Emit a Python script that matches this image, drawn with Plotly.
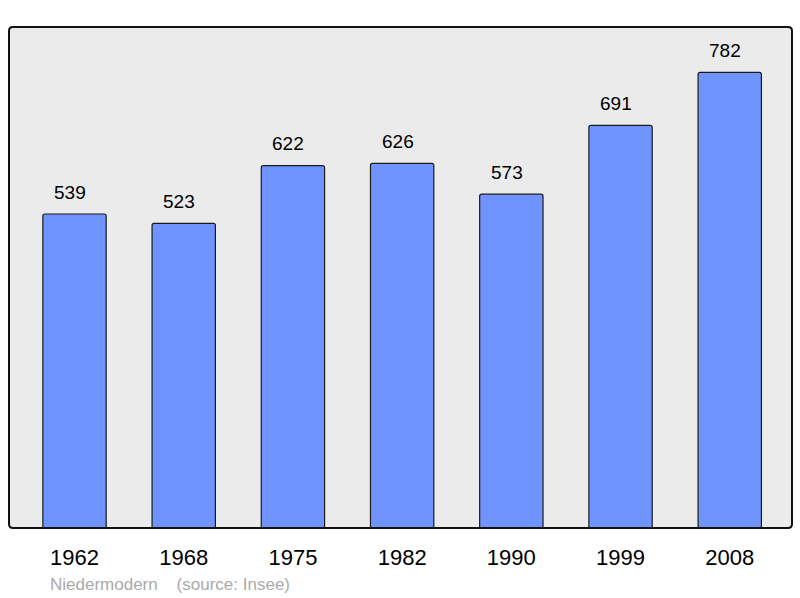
import plotly.graph_objects as go

years = ["1962", "1968", "1975", "1982", "1990", "1999", "2008"]
population = [539, 523, 622, 626, 573, 691, 782]
source_label = "Niedermodern\u00a0\u00a0\u00a0\u00a0(source: Insee)"

FONT = "Liberation Sans, Arial, sans-serif"
W, H = 800, 598
ML, MR, MT, MB = 9, 8, 27, 70
PW, PH = W - ML - MR, H - MT - MB

fig = go.Figure()
fig.add_trace(go.Bar(
    x=years, y=population,
    width=0.58,
    marker=dict(color="#7094ff", line=dict(color="#1a1a1a", width=1.2), cornerradius=2),
    hoverinfo="x+y",
))

for i, v in enumerate(population):
    fig.add_annotation(x=i, y=v, text=str(v), showarrow=False,
                       yanchor="middle", yshift=22, xshift=-4.5,
                       font=dict(family=FONT, size=19, color="#000"))

fig.add_annotation(xref="paper", yref="paper", x=39 / PW, y=-(584 - 528) / PH,
                   xanchor="left", yanchor="middle", text=source_label, showarrow=False,
                   font=dict(family=FONT, size=17, color="#aaaaaa"))

r = 4
path = (f"M {r},0 L {PW - r},0 Q {PW},0 {PW},{r} L {PW},{PH - r} Q {PW},{PH} {PW - r},{PH} "
        f"L {r},{PH} Q 0,{PH} 0,{PH - r} L 0,{r} Q 0,0 {r},0 Z")
fig.add_shape(type="path", xref="paper", yref="paper", xsizemode="pixel", ysizemode="pixel",
              xanchor=0, yanchor=0, path=path, line=dict(color="#111", width=2), layer="above")

fig.update_layout(
    width=W, height=H,
    margin=dict(l=ML, r=MR, t=MT, b=MB),
    paper_bgcolor="white", plot_bgcolor="#ebebeb",
    showlegend=False,
    xaxis=dict(type="category", range=[-0.6, 6.57], showgrid=False, zeroline=False,
               ticks="", showline=False, ticklabelstandoff=14,
               tickfont=dict(family=FONT, size=22, color="#000")),
    yaxis=dict(range=[0, 860], showgrid=False, zeroline=False, showticklabels=False, ticks=""),
)

fig.write_html("out.html", config={"displayModeBar": False},
               post_script="document.body.style.margin='0';document.body.style.overflow='hidden';")
